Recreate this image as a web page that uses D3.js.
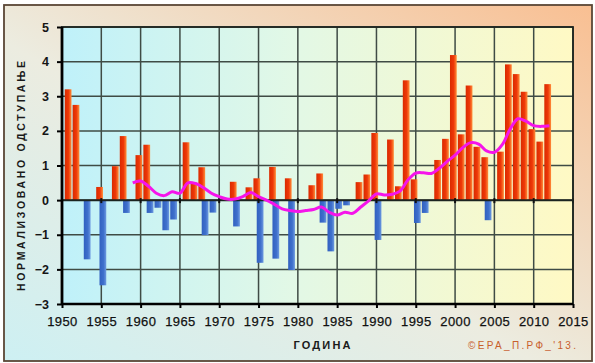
<!DOCTYPE html>
<html><head><meta charset="utf-8">
<script src="https://cdn.jsdelivr.net/npm/d3@7"></script>
<style>body{margin:0;background:#fff}svg{display:block}</style>
</head><body>
<svg id="c" width="595" height="363"></svg>
<script>
// ---- data ----
const warmYears  = [1951,1952,1955,1957,1958,1960,1961,1966,1967,1968,1972,1974,1975,1977,1979,1982,1983,1988,1989,1990,1992,1993,1994,1995,1998,1999,2000,2001,2002,2003,2004,2006,2007,2008,2009,2010,2011,2012];
const warmValues = [3.2,2.75,0.38,0.98,1.85,1.3,1.6,1.67,0.5,0.95,0.53,0.37,0.63,0.96,0.63,0.43,0.77,0.52,0.74,1.94,1.75,0.4,3.46,0.6,1.16,1.77,4.19,1.9,3.31,1.54,1.24,1.4,3.92,3.64,3.13,2.05,1.69,3.35];
const coldYears  = [1953,1955,1958,1961,1962,1963,1964,1968,1969,1972,1975,1977,1979,1983,1984,1985,1986,1990,1995,1996,2004];
const coldValues = [-1.71,-2.46,-0.37,-0.37,-0.22,-0.87,-0.56,-1.01,-0.36,-0.76,-1.81,-1.69,-2.02,-0.65,-1.48,-0.25,-0.15,-1.15,-0.66,-0.37,-0.58];
const trendYears  = d3.range(1959, 2013);
const trendValues = [0.5,0.55,0.4,0.2,0.13,0.24,0.2,0.5,0.48,0.36,0.2,0.1,0.03,0.03,0.1,0.22,0.1,0.0,-0.12,-0.25,-0.3,-0.33,-0.3,-0.27,-0.2,-0.35,-0.43,-0.35,-0.38,-0.2,-0.02,0.18,0.15,0.17,0.26,0.58,0.78,0.79,0.77,0.92,1.12,1.3,1.52,1.66,1.62,1.42,1.38,1.6,2.05,2.35,2.28,2.15,2.13,2.15];
const xTicks = [1950,1955,1960,1965,1970,1975,1980,1985,1990,1995,2000,2005,2010,2015];
const yTicks = [-3,-2,-1,0,1,2,3,4,5];
const yTitle = "НОРМАЛИЗОВАНО ОДСТУПАЊЕ";
const xTitle = "ГОДИНА";
const credit = "©ЕРА_П.РФ_'13.";

// ---- layout ----
const svg = d3.select("#c");
const L=62, R=573, T=27, B=304;
const x = d3.scaleLinear().domain([1950,2015]).range([L,R]);
const y = d3.scaleLinear().domain([-3,5]).range([B,T]);
const yr = x(1951)-x(1950);
const barW = yr*0.86;

const defs = svg.append("defs");
function lg(id, x1,y1,x2,y2, stops){
  const g = defs.append("linearGradient").attr("id",id)
    .attr("x1",x1).attr("y1",y1).attr("x2",x2).attr("y2",y2);
  stops.forEach(s=>g.append("stop").attr("offset",s[0]).attr("stop-color",s[1]));
}
lg("bg","0","1","1","0",[["0%","#cdf0f3"],["45%","#ecece0"],["100%","#f9bf92"]]);
lg("pl","0","0","1","0",[["0%","#bff1fa"],["45%","#e2f8e6"],["100%","#fff9c4"]]);
lg("rb","0","0","1","0",[["0%","#d92a00"],["55%","#ee3808"],["100%","#ff8e3a"]]);
lg("bb","0","0","1","0",[["0%","#3160c0"],["60%","#3f70cc"],["100%","#6e9ae0"]]);

svg.append("rect").attr("x",4).attr("y",5).attr("width",588).attr("height",356)
  .attr("fill","url(#bg)").attr("stroke","#5a4636").attr("stroke-width",1.8);

svg.append("rect").attr("x",L).attr("y",T).attr("width",R-L).attr("height",B-T)
  .attr("fill","url(#pl)");

// gridlines
const grid = svg.append("g").attr("stroke","#3f4b45").attr("stroke-width",1.5);
grid.selectAll("line.h").data(yTicks).join("line").attr("class","h")
  .attr("x1",L).attr("x2",R).attr("y1",d=>y(d)).attr("y2",d=>y(d));
grid.selectAll("line.v").data(xTicks).join("line").attr("class","v")
  .attr("y1",T).attr("y2",B).attr("x1",d=>x(d)).attr("x2",d=>x(d));

// bars
svg.append("g").selectAll("rect").data(warmYears.map((d,i)=>[d,warmValues[i]])).join("rect")
  .attr("x",d=>x(d[0]-0.22)-barW/2).attr("width",barW)
  .attr("y",d=>y(d[1])).attr("height",d=>y(0)-y(d[1]))
  .attr("fill","url(#rb)");
svg.append("g").selectAll("rect").data(coldYears.map((d,i)=>[d,coldValues[i]])).join("rect")
  .attr("x",d=>x(d[0]+0.2)-barW/2).attr("width",barW)
  .attr("y",y(0)).attr("height",d=>y(d[1])-y(0))
  .attr("fill","url(#bb)");

// zero axis
svg.append("line").attr("x1",L).attr("x2",R).attr("y1",y(0)).attr("y2",y(0))
  .attr("stroke","#1c2420").attr("stroke-width",2);
svg.append("g").selectAll("line").data(xTicks).join("line")
  .attr("x1",d=>x(d)).attr("x2",d=>x(d)).attr("y1",y(0)-2).attr("y2",y(0)+3)
  .attr("stroke","#111").attr("stroke-width",2);

// trend
svg.append("path").datum(trendYears.map((d,i)=>[d,trendValues[i]]))
  .attr("d",d3.line().x(d=>x(d[0])).y(d=>y(d[1])).curve(d3.curveCatmullRom.alpha(0.5)))
  .attr("fill","none").attr("stroke","#f514ea").attr("stroke-width",3).attr("stroke-linejoin","round");

// plot border & axes
svg.append("rect").attr("x",L).attr("y",T).attr("width",R-L).attr("height",B-T)
  .attr("fill","none").attr("stroke","#1e2620").attr("stroke-width",1.8);
svg.append("line").attr("x1",L).attr("x2",L).attr("y1",T).attr("y2",B)
  .attr("stroke","#000").attr("stroke-width",2.8);
svg.append("line").attr("x1",L).attr("x2",R).attr("y1",B).attr("y2",B)
  .attr("stroke","#000").attr("stroke-width",2.4);

const yAxis = svg.append("g").attr("transform",`translate(${L},0)`)
  .call(d3.axisLeft(y).tickValues(yTicks).tickSize(5).tickPadding(8).tickFormat(d3.format("d")));
yAxis.select(".domain").remove();
yAxis.selectAll("line").attr("stroke","#000").attr("stroke-width",2);
yAxis.selectAll("text").attr("font-family","Liberation Sans, Arial, sans-serif")
  .attr("font-size","12.5px").attr("font-weight","bold").attr("fill","#151515");

const xAxis = svg.append("g").attr("transform",`translate(0,${B})`)
  .call(d3.axisBottom(x).tickValues(xTicks).tickSize(4).tickPadding(9).tickFormat(d3.format("d")));
xAxis.select(".domain").remove();
xAxis.selectAll("line").attr("stroke","#000").attr("stroke-width",2);
xAxis.selectAll("text").attr("font-family","Liberation Sans, Arial, sans-serif")
  .attr("font-size","13px").attr("fill","#111").attr("letter-spacing","0.4px")
  .attr("stroke","#111").attr("stroke-width",0.25);

// titles
svg.append("text").attr("transform","translate(25,176) rotate(-90)")
  .attr("text-anchor","middle").attr("font-family","Liberation Sans, Arial, sans-serif")
  .attr("font-size","10.5px").attr("font-weight","bold").attr("fill","#1a1a1a")
  .attr("textLength",230).attr("lengthAdjust","spacing").text(yTitle);
svg.append("text").attr("x",322).attr("y",349)
  .attr("text-anchor","middle").attr("font-family","Liberation Sans, Arial, sans-serif")
  .attr("font-size","11px").attr("font-weight","bold").attr("fill","#1a1a1a")
  .attr("textLength",57).attr("lengthAdjust","spacing").text(xTitle);
svg.append("text").attr("x",522).attr("y",349)
  .attr("text-anchor","middle").attr("font-family","Liberation Sans, Arial, sans-serif")
  .attr("font-size","10px").attr("fill","#c8602c")
  .attr("textLength",108).attr("lengthAdjust","spacing").text(credit);
</script>
</body></html>
